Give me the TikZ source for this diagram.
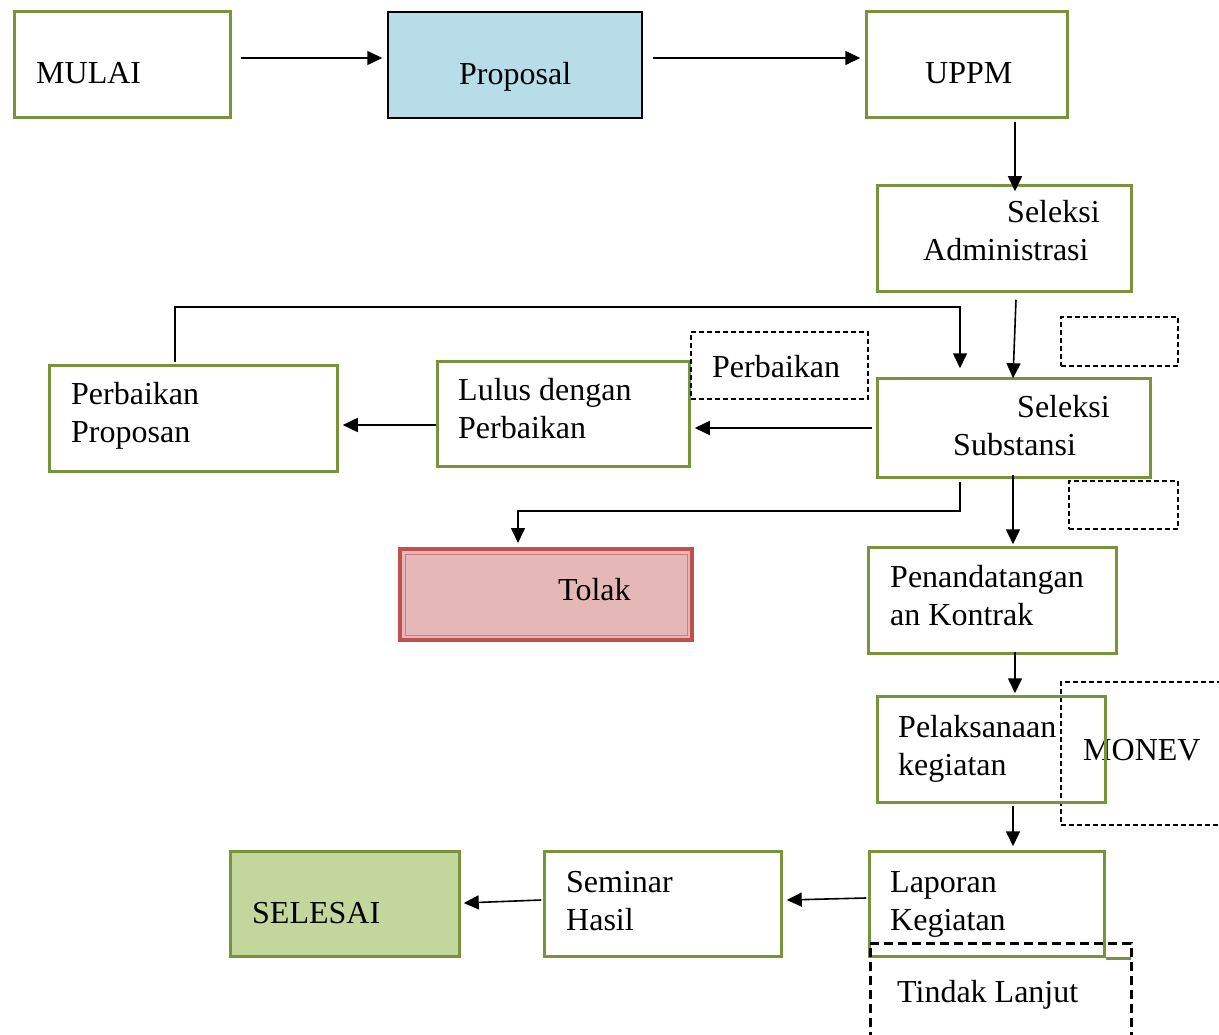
\documentclass[tikz,border=0pt]{standalone}
\usepackage{fontspec}
\setmainfont{Liberation Serif}
\usetikzlibrary{arrows.meta}
\definecolor{boxgreen}{HTML}{77933C}
\definecolor{propblue}{HTML}{B7DDE8}
\definecolor{tolakred}{HTML}{C0504D}
\definecolor{tolakpink}{HTML}{E5B8B7}
\definecolor{selesaigreen}{HTML}{C3D69B}
\begin{document}
\begin{tikzpicture}[x=1pt,y=-1pt,
		greenbox/.style={draw=boxgreen,line width=3.5pt,inner sep=0pt},
		dashbox/.style={draw=black,line width=1.5pt,dash pattern=on 5pt off 3pt,inner sep=0pt},
		txt/.style={anchor=base west,inner sep=0pt,align=left,font=\fontsize{32}{38}\selectfont},
		arr/.style={-{Triangle[length=15pt,width=14pt]},line width=1.6pt}]
			\useasboundingbox (0,0) rectangle (1219,1035);
			% boxes
			\node[greenbox,minimum width=216pt,minimum height=106pt] (mulai) at (122.5,64.5) {};
			\node[draw=black,fill=propblue,line width=1.5pt,inner sep=0pt,minimum width=254pt,minimum height=106pt] (proposal) at (515,65) {};
			\node[greenbox,minimum width=201pt,minimum height=106pt] (uppm) at (967,64.5) {};
			\node[greenbox,minimum width=254pt,minimum height=106pt] (seladm) at (1004.5,238.5) {};
			\node[greenbox,minimum width=273pt,minimum height=99pt] (selsub) at (1014,428) {};
			\node[greenbox,minimum width=252pt,minimum height=105pt] (lulus) at (563.5,414) {};
			\node[greenbox,minimum width=288pt,minimum height=106pt] (perbprop) at (193.5,418.5) {};
			\node[dashbox,minimum width=177pt,minimum height=67pt] (perbdash) at (779.5,365.5) {};
			\node[dashbox,minimum width=117pt,minimum height=49pt] (dashtop) at (1119.5,341.5) {};
			\node[dashbox,minimum width=109pt,minimum height=48pt] (dashbot) at (1123.5,505) {};
			\node[draw=tolakred,fill=tolakpink,line width=4pt,inner sep=0pt,minimum width=292pt,minimum height=91pt] (tolak) at (546,594.5) {};
			\draw[tolakred!75,line width=1pt] ([shift={(7,7)}]tolak.north west) rectangle ([shift={(-7,-7)}]tolak.south east);
			\node[greenbox,minimum width=248pt,minimum height=106pt] (penanda) at (992.5,600.5) {};
			\node[dashbox,minimum width=169pt,minimum height=143pt] (monev) at (1145.5,753.5) {};
			\node[txt] (monev-txt) at (1083,760) {MONEV};
			\node[greenbox,minimum width=228pt,minimum height=106pt] (pelaks) at (991.5,749.5) {};
			\node[greenbox,minimum width=235pt,minimum height=105pt] (laporan) at (987,904) {};
			\draw[boxgreen,line width=3.5pt] (laporan.south east) -- ++(25,0);
			\node[draw=black,line width=3pt,dash pattern=on 9pt off 5pt,inner sep=0pt,minimum width=261pt,minimum height=117pt] (tindak) at (1000.5,1001.5) {};
			\node[greenbox,minimum width=237pt,minimum height=105pt] (seminar) at (663,904) {};
			\node[greenbox,fill=selesaigreen,minimum width=229pt,minimum height=105pt] (selesai) at (345,904) {};
			% texts
			\node[txt] (mulai-txt) at (36,84) {MULAI};
			\node[txt] (proposal-txt) at (459,85) {Proposal};
			\node[txt] (uppm-txt) at (925,84) {UPPM};
			\node[txt] (seladm-txt) at (923,261) {\hspace*{84pt}Seleksi\\Administrasi};
			\node[txt] (selsub-txt) at (953,455) {\hspace*{64pt}Seleksi\\Substansi};
			\node[txt] (perbdash-txt) at (712,377) {Perbaikan};
			\node[txt] (lulus-txt) at (458,438) {Lulus dengan\\Perbaikan};
			\node[txt] (perbprop-txt) at (71,442) {Perbaikan\\Proposan};
			\node[txt] (tolak-txt) at (558,600) {Tolak};
			\node[txt] (penanda-txt) at (890,625) {Penandatangan\\an Kontrak};
			\node[txt] (pelaks-txt) at (898,775) {Pelaksanaan\\kegiatan};
			\node[txt] (laporan-txt) at (890,930) {Laporan\\Kegiatan};
			\node[txt] (tindak-txt) at (897,1002) {Tindak Lanjut};
			\node[txt] (seminar-txt) at (566,930) {Seminar\\Hasil};
			\node[txt] (selesai-txt) at (252,923) {SELESAI};
			% connectors
			\draw[arr] ([shift={(8.5,-6.5)}]mulai.east) -- ([shift={(-5,-7)}]proposal.west);
			\draw[arr] ([shift={(10,-7)}]proposal.east) -- ([shift={(-4.5,-6.5)}]uppm.west);
			\draw[arr] ([shift={(48,2.5)}]uppm.south) -- ([shift={(10.5,7.5)}]seladm.north);
			\draw[arr] ([shift={(11.5,6.5)}]seladm.south) -- ([shift={(-1,1.5)}]selsub.north);
			\draw[arr] ([shift={(-3.5,0)}]selsub.west) -- ([shift={(3.5,14)}]lulus.east);
			\draw[arr] ([shift={(0.5,11)}]lulus.west) -- ([shift={(3.5,6.5)}]perbprop.east);
			\draw[arr] ([shift={(-18.5,-1.5)}]perbprop.north) -- ++(0,-55) -| ([shift={(-54,-8.5)}]selsub.north);
			\draw[arr] ([shift={(-54,3)}]selsub.south) -- ++(0,29) -| ([shift={(-28,-4)}]tolak.north);
			\draw[arr] ([shift={(-1,-4)}]selsub.south) -- ([shift={(20.5,-1.5)}]penanda.north);
			\draw[arr] ([shift={(22.5,-3.5)}]penanda.south) -- ([shift={(23.5,-1.5)}]pelaks.north);
			\draw[arr] ([shift={(21.5,1.5)}]pelaks.south) -- ([shift={(26,-3.5)}]laporan.north);
			\draw[arr] ([shift={(-1.5,-6)}]laporan.west) -- ([shift={(3.5,-4)}]seminar.east);
			\draw[arr] ([shift={(-1.5,-4)}]seminar.west) -- ([shift={(2.5,-1)}]selesai.east);
		\end{tikzpicture}
\end{document}
